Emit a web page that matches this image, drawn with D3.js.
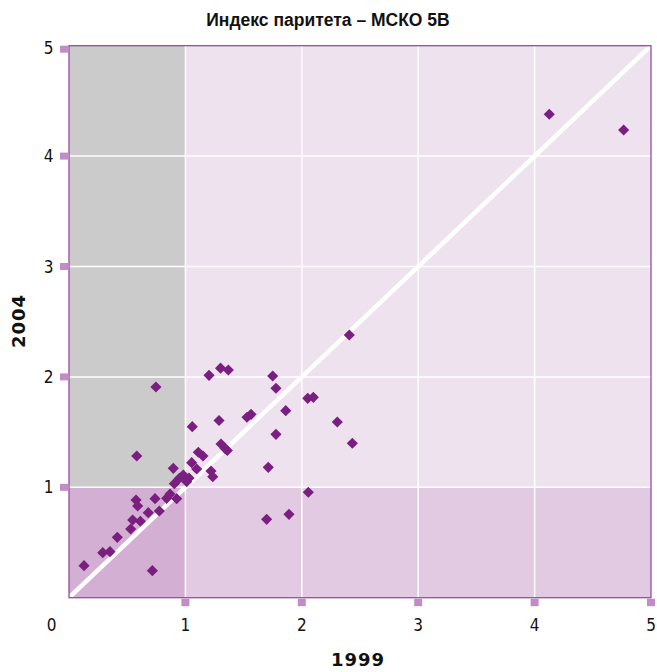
<!DOCTYPE html>
<html><head><meta charset="utf-8">
<script src="https://cdn.jsdelivr.net/npm/d3@7"></script>
<style>
html,body{margin:0;padding:0;background:#fff;}
svg{display:block;}
</style></head>
<body>
<script>
const title = "Индекс паритета – МСКО 5В";
const xTitle = "1999";
const yTitle = "2004";
const xTicks = [1, 2, 3, 4, 5];
const yTicks = [1, 2, 3, 4, 5];
const gridVals = [1, 2, 3, 4];
const x1999 = [0.129,0.290,0.352,0.415,0.530,0.547,0.613,0.681,0.776,0.576,0.590,0.739,0.839,0.868,0.925,0.716,0.582,0.747,0.896,0.905,0.948,0.982,1.011,1.031,1.059,1.054,1.097,1.111,1.151,1.220,1.235,1.203,1.302,1.369,1.289,1.306,1.340,1.360,1.529,1.564,1.750,1.778,1.862,2.051,2.099,2.408,2.305,1.778,2.434,1.712,2.056,1.698,1.890,4.126,4.765];
const y2004 = [0.290,0.408,0.417,0.547,0.622,0.704,0.692,0.770,0.785,0.885,0.831,0.897,0.900,0.939,0.897,0.245,1.284,1.908,1.172,1.033,1.082,1.111,1.051,1.084,1.549,1.223,1.166,1.317,1.283,1.148,1.096,2.014,2.079,2.063,1.605,1.392,1.353,1.333,1.634,1.661,2.008,1.897,1.694,1.806,1.815,2.380,1.591,1.480,1.399,1.181,0.955,0.710,0.755,4.379,4.236];

const W = 657, H = 672;
const L = 69, R = 651, T = 45.7, B = 597.7;
const svg = d3.select("body").append("svg").attr("width", W).attr("height", H);
const x = d3.scaleLinear().domain([0, 5]).range([L, R]);
const y = d3.scaleLinear().domain([0, 5]).range([B, T]);

// quadrant backgrounds
const quads = [
  {x0:0,x1:1,y0:1,y1:5,c:"#cbcbcb"},
  {x0:1,x1:5,y0:1,y1:5,c:"#efe2ef"},
  {x0:0,x1:1,y0:0,y1:1,c:"#d2afd3"},
  {x0:1,x1:5,y0:0,y1:1,c:"#e2cbe2"}
];
svg.selectAll("rect.q").data(quads).enter().append("rect")
  .attr("x", d => x(d.x0)).attr("y", d => y(d.y1))
  .attr("width", d => x(d.x1) - x(d.x0)).attr("height", d => y(d.y0) - y(d.y1))
  .attr("fill", d => d.c);

// grid
svg.selectAll("line.gx").data(gridVals).enter().append("line")
  .attr("x1", d => x(d)).attr("x2", d => x(d)).attr("y1", T).attr("y2", B)
  .attr("stroke", "#fff").attr("stroke-width", 1.5);
svg.selectAll("line.gy").data(gridVals).enter().append("line")
  .attr("y1", d => y(d)).attr("y2", d => y(d)).attr("x1", L).attr("x2", R)
  .attr("stroke", "#fff").attr("stroke-width", 1.5);

// diagonal
svg.append("line").attr("x1", x(0)).attr("y1", y(0)).attr("x2", x(5)).attr("y2", y(5))
  .attr("stroke", "#fff").attr("stroke-width", 4.5);

// border
svg.append("rect").attr("x", L).attr("y", T).attr("width", R - L).attr("height", B - T)
  .attr("fill", "none").attr("stroke", "#9a4aa6").attr("stroke-width", 1.3);

// tick squares
svg.selectAll("rect.tx").data(xTicks).enter().append("rect")
  .attr("x", d => x(d) - 4).attr("y", B + 1).attr("width", 8).attr("height", 7.5)
  .attr("fill", "#c08dc5");
svg.selectAll("rect.ty").data(yTicks).enter().append("rect")
  .attr("x", L - 9).attr("y", d => Math.max(y(d) - 3.5, T)).attr("width", 8).attr("height", 7)
  .attr("fill", "#c08dc5");

// tick labels
const tickFont = "'DejaVu Sans', sans-serif";
svg.selectAll("text.xl").data(xTicks).enter().append("text")
  .attr("x", d => x(d)).attr("y", 625).attr("dy", "0.36em")
  .attr("text-anchor", "middle").attr("font-family", tickFont).attr("font-size", 17)
  .attr("font-stretch", "condensed").attr("fill", "#111").text(d => d);
svg.append("text").attr("x", 51.5).attr("y", 625).attr("dy", "0.36em")
  .attr("text-anchor", "middle").attr("font-family", tickFont).attr("font-size", 17)
  .attr("font-stretch", "condensed").attr("fill", "#111").text("0");
svg.selectAll("text.yl").data(yTicks).enter().append("text")
  .attr("x", 53.5).attr("y", d => y(d) + (d === 5 ? 2 : 0)).attr("dy", "0.36em")
  .attr("text-anchor", "end").attr("font-family", tickFont).attr("font-size", 17)
  .attr("font-stretch", "condensed").attr("fill", "#111").text(d => d);

// axis titles
svg.append("text").attr("x", 358).attr("y", 660).attr("dy", "0.36em")
  .attr("text-anchor", "middle").attr("font-family", tickFont).attr("font-weight", "bold")
  .attr("font-size", 18).attr("letter-spacing", 1).attr("fill", "#111").text(xTitle);
svg.append("text").attr("transform", "translate(19,321) rotate(-90)").attr("dy", "0.36em")
  .attr("text-anchor", "middle").attr("font-family", tickFont).attr("font-weight", "bold")
  .attr("font-size", 18).attr("letter-spacing", 1).attr("fill", "#111").text(yTitle);

// title
svg.append("text").attr("x", 328).attr("y", 20).attr("dy", "0.36em")
  .attr("text-anchor", "middle").attr("font-family", "'Liberation Sans Narrow', 'Liberation Sans', sans-serif")
  .attr("font-weight", "bold").attr("font-size", 17.5).attr("fill", "#111").text(title);

// points
const pts = x1999.map((v, i) => ({x: v, y: y2004[i]}));
const sym = d3.symbol().type(d3.symbolSquare).size(62);
svg.selectAll("path.pt").data(pts).enter().append("path")
  .attr("d", sym)
  .attr("transform", d => `translate(${x(d.x)},${y(d.y)}) rotate(45)`)
  .attr("fill", "#7a1f80");
</script>
</body></html>
